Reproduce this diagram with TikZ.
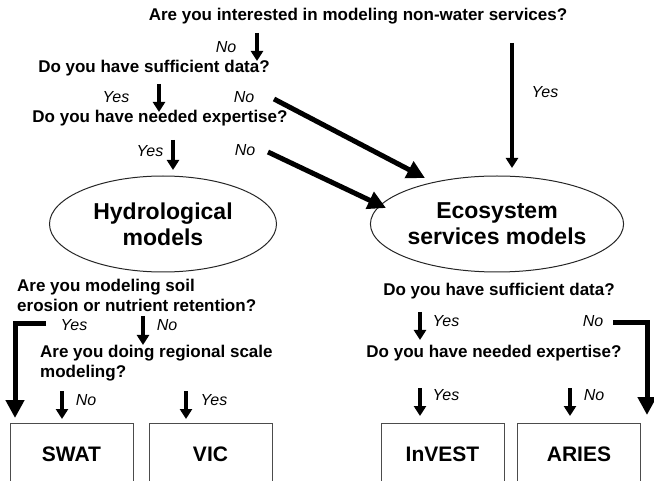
\documentclass[tikz,border=0pt]{standalone}
\usepackage{fontspec}
\setmainfont{Liberation Sans}
\usetikzlibrary{arrows.meta,shapes.geometric}
\begin{document}
\begin{tikzpicture}[x=1pt,y=-1pt,
  q/.style={font=\bfseries\fontsize{17}{20}\selectfont, inner sep=0pt, align=center},
  lab/.style={font=\itshape\fontsize{16}{18}\selectfont, inner sep=0pt},
  arr/.style={line width=4.5pt, -{Triangle[length=10pt,width=12pt]}},
  big/.style={line width=5pt, -{Triangle[length=18pt,width=18pt]}},
  ell/.style={ellipse, draw=black!85, line width=1pt, minimum width=227pt, minimum height=96pt, inner sep=0pt, font=\bfseries\fontsize{23}{26}\selectfont, align=center},
  box/.style={draw=black!70, line width=0.9pt, minimum width=123pt, minimum height=62pt, anchor=north, font=\bfseries\fontsize{21}{23}\selectfont}
]
\useasboundingbox (0,0) rectangle (654,481);
% questions
\node[q] (q1) at (358,16) {Are you interested in modeling non-water services?};
\node[q] (q2) at (154,68) {Do you have sufficient data?};
\node[q] (q3) at (160,118) {Do you have needed expertise?};
\node[ell] (hyd) at (163,224) {Hydrological\\models};
\node[ell] (eco) at (497,224) {Ecosystem\\services models};
\node[q, align=left, anchor=north west] (q4) at (17,279) {Are you modeling soil\\erosion or nutrient retention?};
\node[q] (q5) at (499,291) {Do you have sufficient data?};
\node[q, align=left, anchor=north west] (q6) at (40,345) {Are you doing regional scale\\modeling?};
\node[q] (q7) at (494,353) {Do you have needed expertise?};
% boxes
\node[box] (swat) at (71.5,423) {SWAT};
\node[box] (vic) at (210.5,423) {VIC};
\node[box] (invest) at (442.5,423) {InVEST};
\node[box] (aries) at (579,423) {ARIES};
% labels
\node[lab] (l1) at (226,47) {No};
\node[lab] (l2) at (116,97) {Yes};
\node[lab] (l3) at (244,97) {No};
\node[lab] (l4) at (150,151) {Yes};
\node[lab] (l5) at (245,150) {No};
\node[lab] (l6) at (545,92) {Yes};
\node[lab] (l7) at (74,325) {Yes};
\node[lab] (l8) at (167,325) {No};
\node[lab] (l9) at (86,400) {No};
\node[lab] (l10) at (214,400) {Yes};
\node[lab] (l11) at (446,321) {Yes};
\node[lab] (l12) at (593,321) {No};
\node[lab] (l13) at (446,395) {Yes};
\node[lab] (l14) at (594,395) {No};
% coordinates for connector ends
\coordinate (d1s) at (274,99);
\coordinate (d1e) at (425,178);
\coordinate (d2s) at (268,152);
\coordinate (d2e) at (386,208);
\coordinate (ly) at (46,324);
\coordinate (rn) at (613,323);
% short arrows
\draw[arr] (257,33) -- (257,61);
\draw[arr] (159,84) -- (159,112);
\draw[arr] (173,140) -- (173,170);
\draw[arr] (143,316) -- (143,345);
\draw[arr] (62,391) -- (62,419);
\draw[arr] (186,391) -- (186,419);
\draw[arr] (420,312) -- (420,340);
\draw[arr] (420,388) -- (420,416);
\draw[arr] (570,388) -- (570,416);
% long arrows
\draw[arr] (512,43) -- (512,168);
\draw[big] (d1s) -- (d1e);
\draw[big] (d2s) -- (d2e);
\draw[big] (ly) -- (15,324) -- (15,418);
\draw[big] (rn) -- (647,323) -- (647,415);
\end{tikzpicture}
\end{document}
